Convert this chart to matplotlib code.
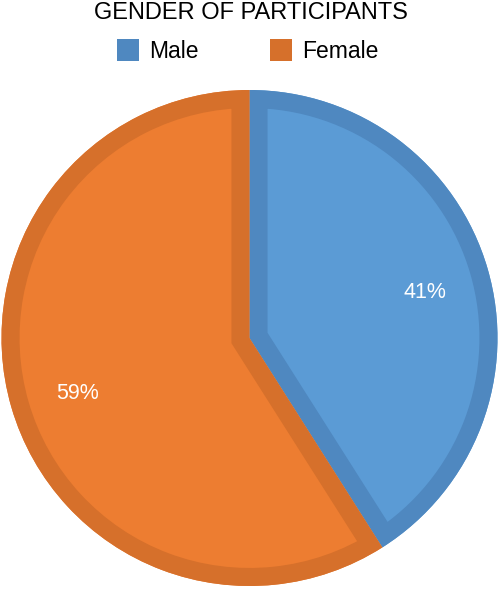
import matplotlib.pyplot as plt
from matplotlib.patches import Rectangle, PathPatch
from matplotlib.transforms import offset_copy

plt.rcParams['font.family'] = ['Liberation Sans', 'DejaVu Sans']

labels = ['Male', 'Female']
values = [41, 59]
fills = ['#5b9bd5', '#ed7d31']
edges = ['#4f88c0', '#d6702b']

W, H = 499, 590
fig = plt.figure(figsize=(W / 100, H / 100), dpi=100)
ax = fig.add_axes([0, 0, 1, 1])

# pie, clockwise from 12 o'clock
wedges, texts = ax.pie(values, colors=fills, startangle=90, counterclock=False,
                       center=(249.5, 252), radius=248, labels=[f'{v}%' for v in values],
                       labeldistance=0.73, frame=True,
                       wedgeprops=dict(linewidth=0),
                       textprops=dict(color='white', fontsize=15.5, ha='center', va='center'))
ax.set_xlim(0, W)
ax.set_ylim(0, H)
ax.set_aspect('auto')
ax.axis('off')

# inner border: thick stroke clipped to the wedge outline
for w, ec in zip(wedges, edges):
    path = w.get_path()
    border = PathPatch(path, transform=w.get_transform(), facecolor='none',
                       edgecolor=ec, linewidth=26, joinstyle='miter', zorder=w.get_zorder() + 0.1)
    ax.add_patch(border)
    border.set_clip_path(path, w.get_transform())
for t in texts:
    t.set_zorder(5)
    t.set_transform(offset_copy(t.get_transform(), fig=fig, x=2, y=-5, units='dots'))

fig.text(251 / W, 1 - 13 / H, 'GENDER OF PARTICIPANTS', ha='center', va='center',
         fontsize=17, color='#000000')

# legend
leg_x = [117, 270]
for x, lab, ec in zip(leg_x, labels, edges):
    fig.patches.append(Rectangle((x / W, 1 - 61 / H), 22 / W, 22 / H, transform=fig.transFigure,
                                 facecolor=ec, edgecolor='none'))
    fig.text((x + 32) / W, 1 - 52 / H, lab, ha='left', va='center', fontsize=16.5, color='#000000')

fig.savefig('out.png', dpi=100)
